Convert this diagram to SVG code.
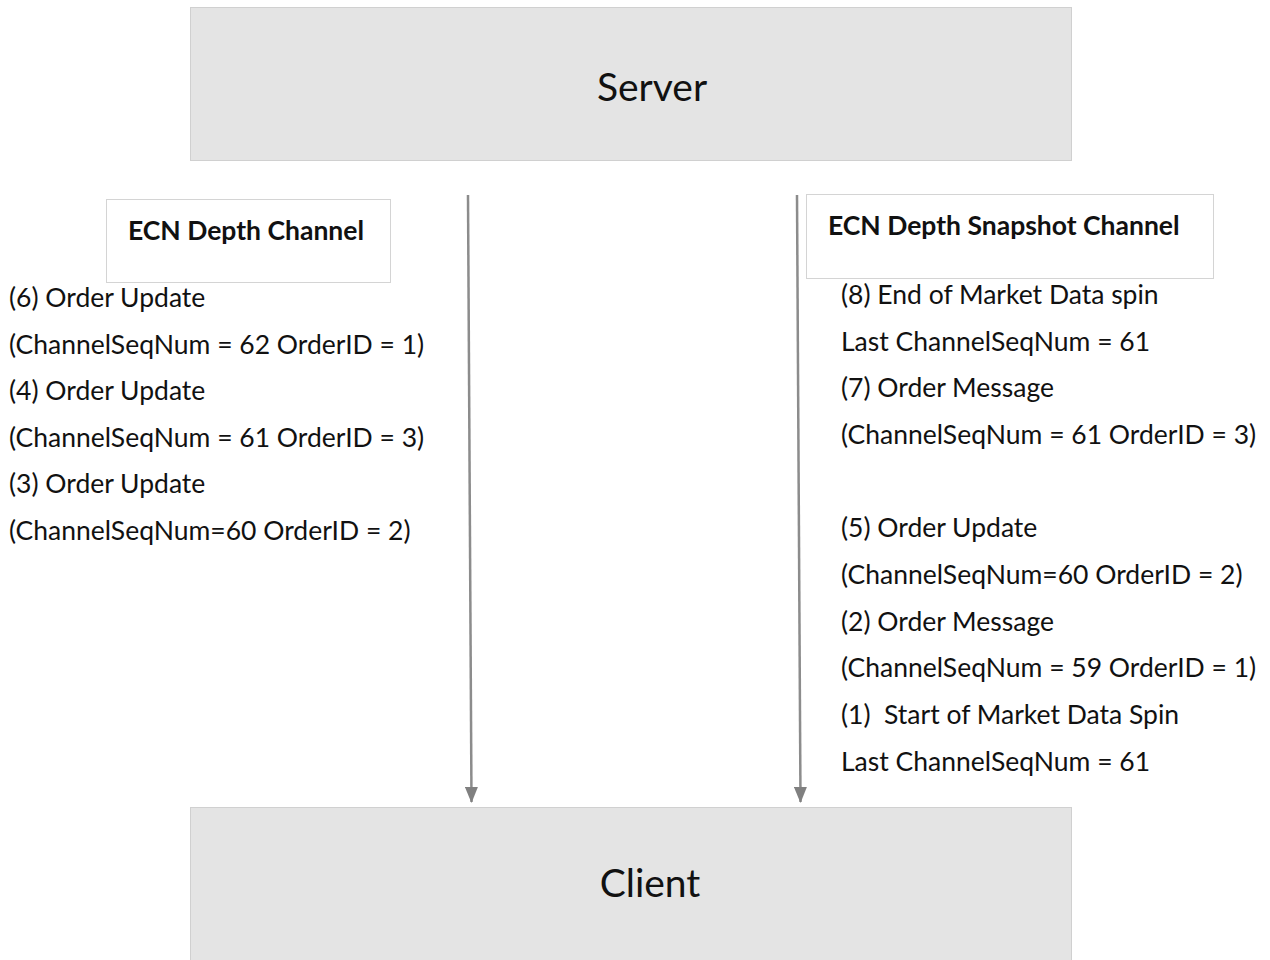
<svg xmlns="http://www.w3.org/2000/svg" width="1270" height="960" viewBox="0 0 1270 960">
<style>
.box{fill:#e4e4e4;stroke:#d0d0d0;stroke-width:1}
.lbl{fill:#ffffff;stroke:#d4d4d4;stroke-width:1}
.big{font-family:Lato,"Open Sans",sans-serif;font-size:39px;fill:#111}
.hdr{font-family:Lato,"Open Sans",sans-serif;font-size:26.5px;font-weight:bold;fill:#111}
.t{font-family:Lato,"Open Sans",sans-serif;font-size:26.5px;fill:#111}
.arr{stroke:#8c8c8c;stroke-width:2.5;fill:none}
</style>
<defs>
<marker id="ah" markerWidth="16" markerHeight="13" refX="15" refY="6.5" orient="auto" markerUnits="userSpaceOnUse" viewBox="0 0 16 13">
<path d="M0,0 L16,6.5 L0,13 Z" fill="#808080"/>
</marker>
</defs>
<rect width="1270" height="960" fill="#fff"/>
<g id="server">
<rect class="box" x="190.500" y="7.500" width="881" height="153"/>
<text class="big" x="652" y="101" text-anchor="middle">Server</text>
</g>
<g id="client">
<rect class="box" x="190.500" y="807.500" width="881" height="160"/>
<text class="big" x="650" y="897" text-anchor="middle">Client</text>
</g>
<g id="connectors">
<line class="arr" x1="468" y1="195" x2="471.500" y2="802" marker-end="url(#ah)"/>
<line class="arr" x1="797" y1="195" x2="800.500" y2="802" marker-end="url(#ah)"/>
</g>
<g id="ecn-depth-channel">
<rect class="lbl" x="106.500" y="199.500" width="284" height="83"/>
<text class="hdr" x="128" y="240">ECN Depth Channel</text>
</g>
<g id="ecn-depth-snapshot-channel">
<rect class="lbl" x="806.500" y="194.500" width="407" height="84"/>
<text class="hdr" x="828" y="235">ECN Depth Snapshot Channel</text>
</g>
<g id="left-messages">
<text class="t" x="9" y="307">(6) Order Update</text>
<text class="t" x="9" y="354">(ChannelSeqNum = 62 OrderID = 1)</text>
<text class="t" x="9" y="400">(4) Order  Update</text>
<text class="t" x="9" y="447">(ChannelSeqNum = 61 OrderID = 3)</text>
<text class="t" x="9" y="493">(3) Order Update</text>
<text class="t" x="9" y="540">(ChannelSeqNum=60 OrderID = 2)</text>
</g>
<g id="right-messages">
<text class="t" x="841" y="304">(8) End of Market Data spin</text>
<text class="t" x="841" y="351">Last ChannelSeqNum = 61</text>
<text class="t" x="841" y="397">(7) Order Message</text>
<text class="t" x="841" y="444">(ChannelSeqNum = 61 OrderID = 3)</text>
<text class="t" x="841" y="537">(5) Order Update</text>
<text class="t" x="841" y="584">(ChannelSeqNum=60 OrderID = 2)</text>
<text class="t" x="841" y="631">(2) Order Message</text>
<text class="t" x="841" y="677">(ChannelSeqNum = 59 OrderID = 1)</text>
<text class="t" x="841" y="724" xml:space="preserve">(1)  Start of Market Data Spin</text>
<text class="t" x="841" y="771">Last ChannelSeqNum = 61</text>
</g>
</svg>
